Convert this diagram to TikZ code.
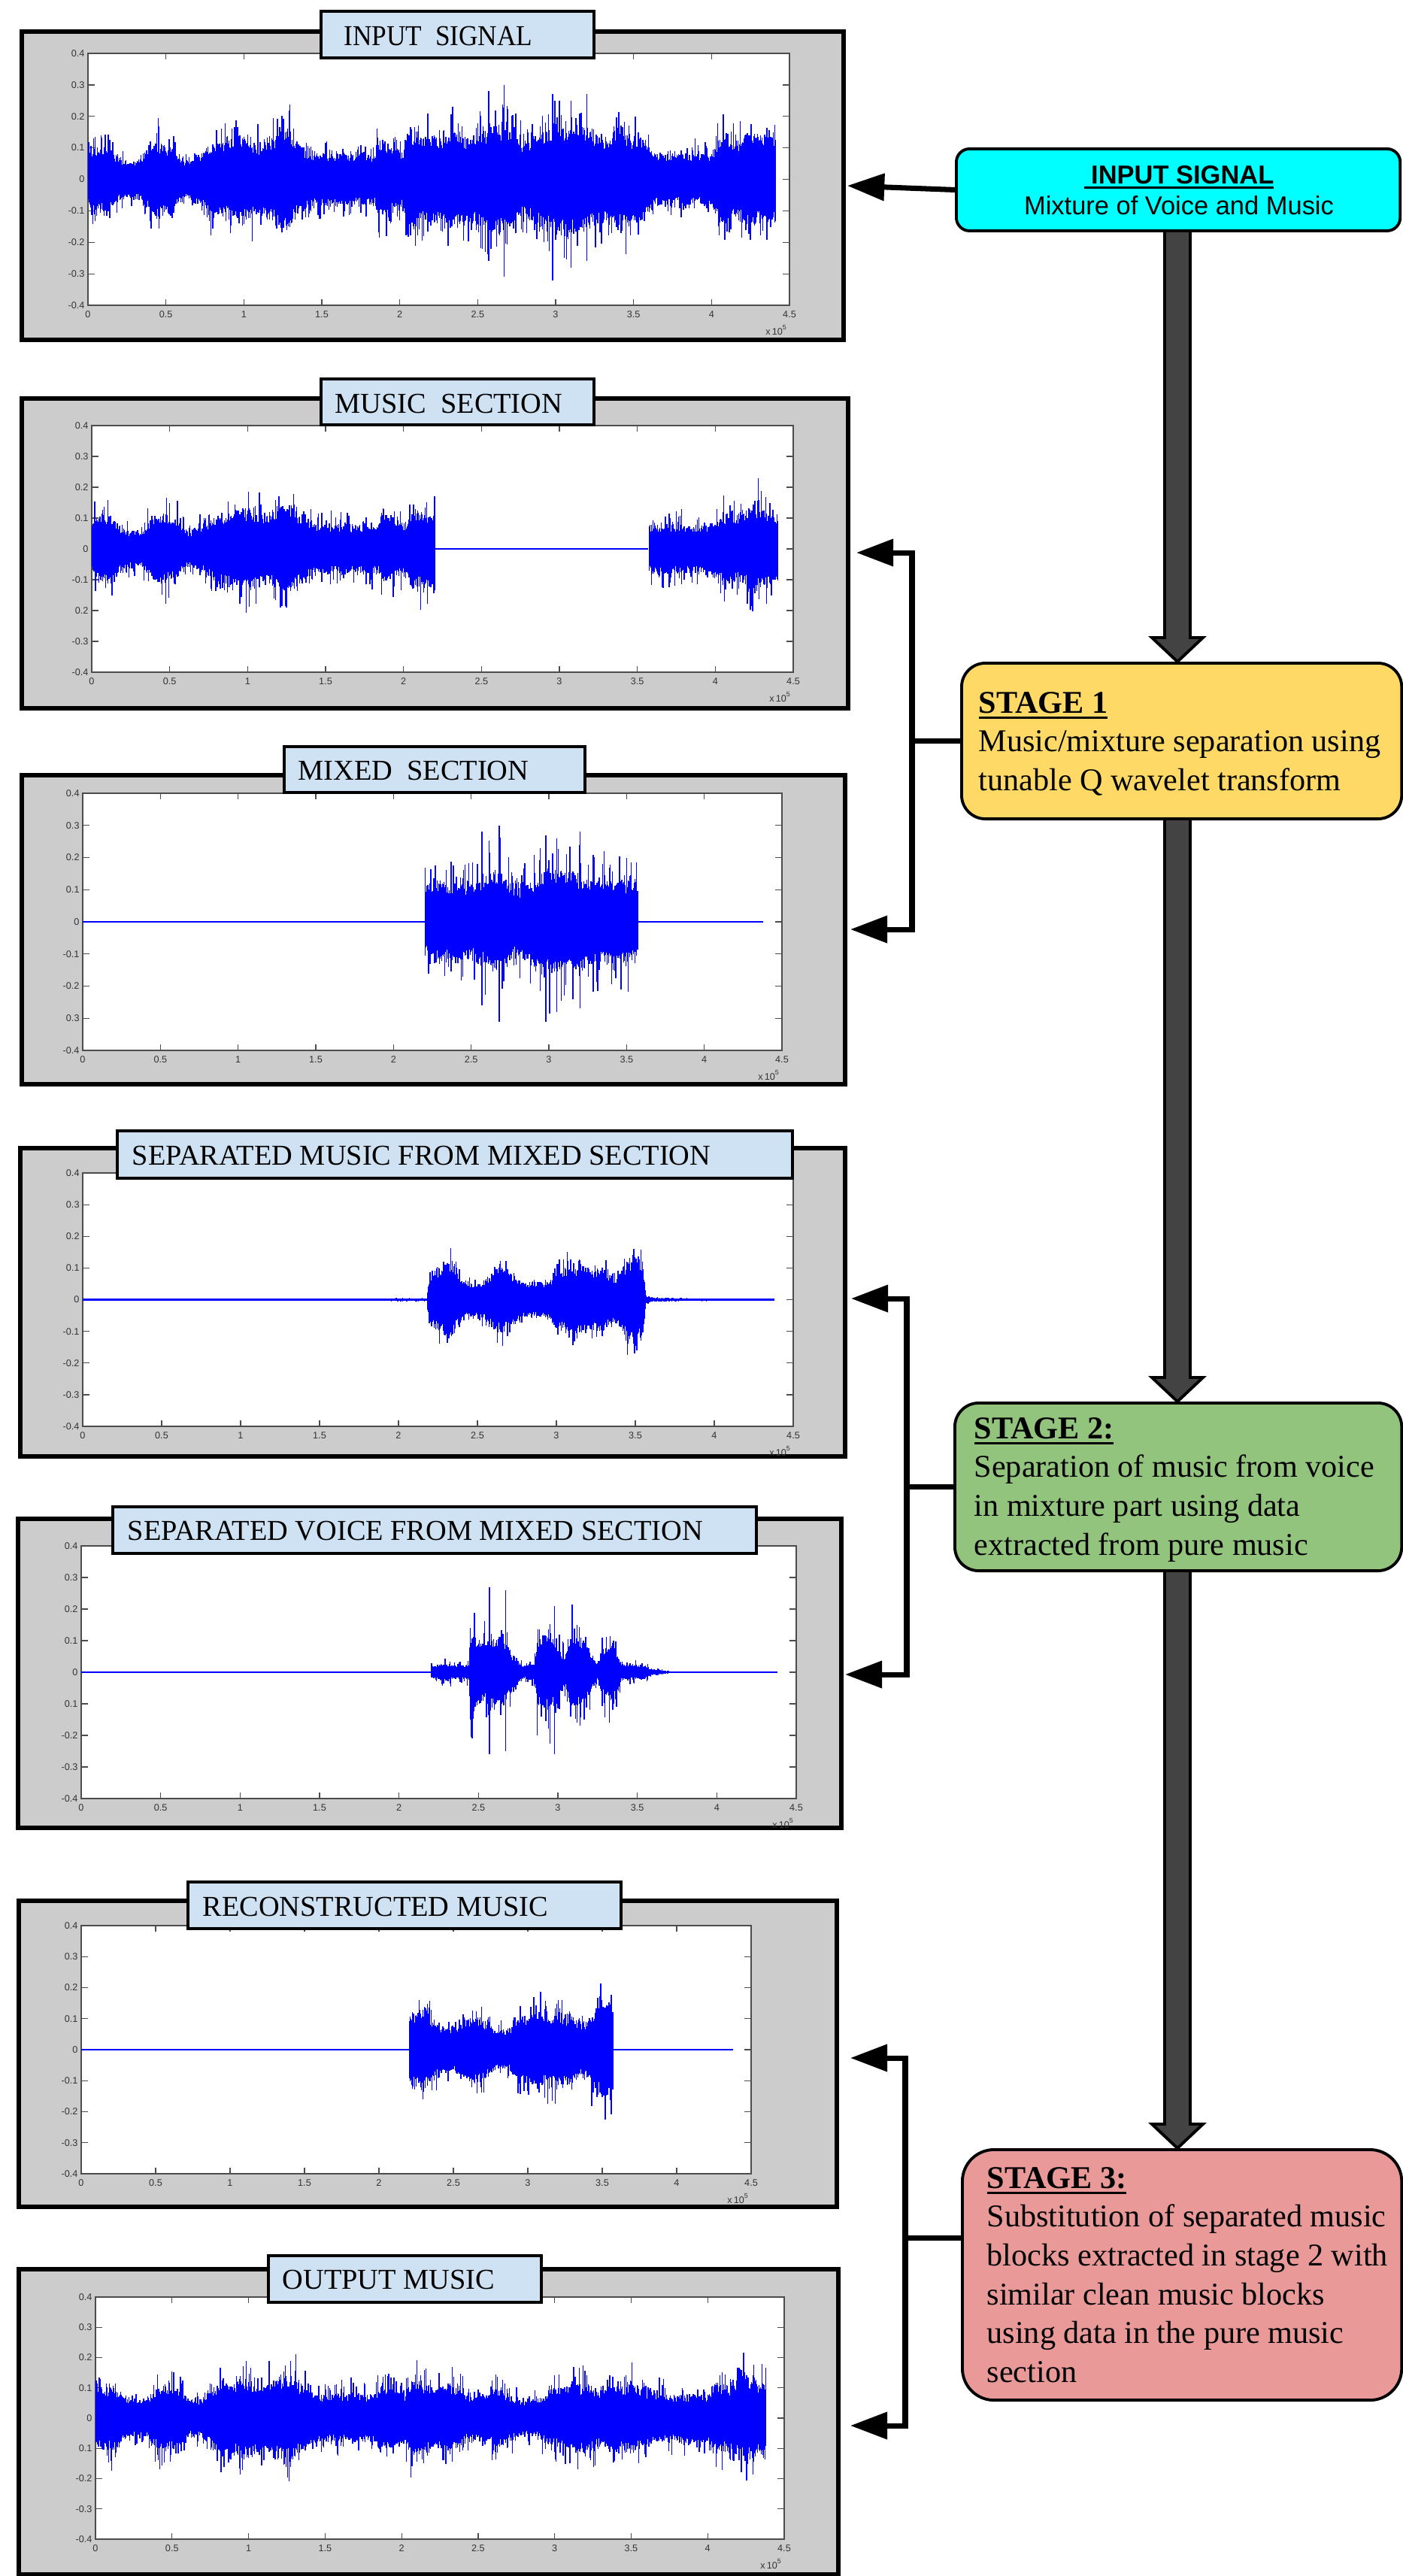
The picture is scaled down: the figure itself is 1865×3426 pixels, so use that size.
\documentclass[tikz,border=0pt]{standalone}
\usepackage{graphicx}
\usepackage{fontspec}
\setmainfont{Liberation Serif}
\setsansfont{Liberation Sans}
\usetikzlibrary{arrows.meta,calc}

\definecolor{panelgray}{RGB}{204,204,204}
\definecolor{labelblue}{RGB}{207,226,243}
\definecolor{stageA}{RGB}{255,217,102}
\definecolor{stageB}{RGB}{147,196,125}
\definecolor{stageC}{RGB}{234,153,153}
\definecolor{arrowgray}{RGB}{67,67,67}
\definecolor{inputcyan}{RGB}{0,255,255}
\definecolor{wblue}{RGB}{0,0,255}

\newsavebox\ulbox
\newcommand\myul[3]{\sbox\ulbox{#1}\rlap{\rule[#2]{\wd\ulbox}{#3}}\usebox\ulbox}

% ---------- waveform helpers ----------
\newcommand\wspk{1}
\newcommand\wmul{1}
\newcommand\wv[4]{%
  \pgfmathtruncatemacro\wn{max(1,round(((#2)-(#1))/0.005))}%
  \draw[wave] foreach \k in {1,...,\wn}{
    ({(#1)+((#2)-(#1))*\k/\wn},{-\wmul*((#3)+((#4)-(#3))*\k/\wn)*(0.75+0.35*rnd+\wspk*rnd^6)})
    -- ({(#1)+((#2)-(#1))*\k/\wn},{\wmul*((#3)+((#4)-(#3))*\k/\wn)*(0.75+0.35*rnd+\wspk*rnd^6)})
  };}
\newcommand\wvpair[4]{\wv{#1}{#3}{#2}{#4}}
\newcommand\wenv[1]{%
  \gdef\wprev{}%
  \foreach \wT/\wE in {#1}{%
    \ifx\wprev\empty\else\expandafter\wvpair\wprev{\wT}{\wE}\fi
    \xdef\wprev{{\wT}{\wE}}%
  }}

% ---------- axes helper ----------
\newcommand\axes[6]{%
  \fill[white] (#1,#2) rectangle (#3,#4);
  \draw[axisline] (#1,#2) rectangle (#3,#4);
  \foreach \i in {0,...,9}{%
    \pgfmathsetmacro\xx{#1+\i*(#3-#1)/9}%
    \draw[axisline] (\xx,#4) -- (\xx,#4-8);
    \draw[axisline] (\xx,#2) -- (\xx,#2+8);
  }
  \foreach \j in {0,...,8}{%
    \pgfmathsetmacro\yy{#2+\j*(#4-#2)/8}%
    \draw[axisline] (#1,\yy) -- (#1+9,\yy);
    \draw[axisline] (#3,\yy) -- (#3-9,\yy);
  }
  \foreach \l [count=\j from 0] in {#6}{%
    \pgfmathsetmacro\yy{#2+\j*(#4-#2)/8}%
    \node[ticklab, anchor=east] (#5y\j) at (#1-2,\yy) {\l};
  }
  \foreach \l [count=\i from 0] in {0,0.5,1,1.5,2,2.5,3,3.5,4,4.5}{%
    \pgfmathsetmacro\xx{#1+\i*(#3-#1)/9}%
    \node[ticklab, anchor=north] (#5x\i) at (\xx,#4+5) {\l};
  }
  \node[ticklab, anchor=north east] (#5e) at (#3,#4+24) {x\,10\textsuperscript{5}};
}

\begin{document}
\begin{tikzpicture}[x=0.01cm, y=-0.01cm,
  panelframe/.style={fill=panelgray, draw=black, line width=1.7pt},
  axisline/.style={draw=black!70, line width=0.35pt},
  ticklab/.style={font=\sffamily\fontsize{3.6}{4}\selectfont, text=black!80, inner sep=0.5pt},
  labelbox/.style={fill=labelblue, draw=black, line width=1.1pt},
  labeltext/.style={font=\fontsize{10.9}{13}\selectfont, inner sep=0pt},
  wave/.style={draw=wblue, line width=0.4pt},
  flat/.style={draw=wblue, line width=0.5pt},
  stagebox/.style={draw=black, line width=1.1pt, rounded corners=9pt, inner sep=0pt, anchor=north west},
  stagetext/.style={inner sep=0pt, anchor=base west, font=\fontsize{12}{14.7}\selectfont},
  bigarr/.style={fill=arrowgray, draw=black, line width=1.1pt, line join=miter},
  conn/.style={draw=black, line width=2pt, -{Triangle[length=14pt,width=10pt]}},
]
\useasboundingbox (0,0) rectangle (1865,3426);
\pgfmathsetseed{7}

% ================= PANEL 1 : INPUT SIGNAL =================
\path[panelframe] (29,42) rectangle (1122,452);
\axes{117}{71}{1050}{406}{pa}{0.4,0.3,0.2,0.1,0,-0.1,-0.2,-0.3,-0.4}
\begin{scope}[shift={(117,238.5)}, xscale=207.33, yscale=-418.75]
  \renewcommand\wspk{0.7}\renewcommand\wmul{1.25}
  \wenv{0/0.06, 0.05/0.08, 0.12/0.08, 0.2/0.05, 0.3/0.04, 0.38/0.07, 0.45/0.09, 0.55/0.07,
        0.62/0.045, 0.7/0.05, 0.78/0.08, 0.9/0.09, 1.0/0.1, 1.1/0.08, 1.2/0.1, 1.28/0.12,
        1.35/0.08, 1.45/0.06, 1.6/0.06, 1.75/0.06, 1.84/0.06, 1.86/0.1, 1.95/0.08, 2.02/0.06,
        2.06/0.12, 2.15/0.1, 2.25/0.1, 2.35/0.11, 2.45/0.1, 2.55/0.12, 2.65/0.13, 2.72/0.11,
        2.8/0.08, 2.9/0.11, 3.0/0.13, 3.1/0.13, 3.2/0.12, 3.3/0.1, 3.45/0.11, 3.55/0.09,
        3.65/0.06, 3.8/0.06, 4.0/0.06, 4.05/0.1, 4.15/0.09, 4.25/0.11, 4.35/0.1, 4.41/0.1}
  \draw[wave] (2.57,-0.26) -- (2.57,0.28) (2.67,-0.31) -- (2.67,0.3)
              (2.98,-0.32) -- (2.98,0.27) (3.2,-0.26) -- (3.2,0.27) (3.1,-0.28) -- (3.1,0.25);
\end{scope}
\draw[labelbox] (427,15) rectangle (790,77);
\node[labeltext, anchor=base west] (la) at (457,60) {\scalebox{0.92}[1]{INPUT\hspace{0.5em}SIGNAL}};

% ================= PANEL 2 : MUSIC SECTION =================
\path[panelframe] (29,530) rectangle (1128,942);
\axes{122}{566}{1055}{894}{pb}{0.4,0.3,0.2,0.1,0,-0.1,0.2,-0.3,-0.4}
\begin{scope}[shift={(122,730)}, xscale=207.33, yscale=-410]
  \renewcommand\wspk{0.8}\renewcommand\wmul{1.2}
  \wenv{0/0.06, 0.05/0.08, 0.12/0.08, 0.2/0.05, 0.3/0.04, 0.38/0.07, 0.45/0.09, 0.55/0.07,
        0.62/0.045, 0.7/0.05, 0.78/0.08, 0.9/0.09, 1.0/0.1, 1.1/0.08, 1.2/0.1, 1.28/0.11,
        1.35/0.08, 1.45/0.06, 1.6/0.06, 1.75/0.06, 1.84/0.06, 1.86/0.09, 1.95/0.07, 2.02/0.06,
        2.06/0.1, 2.15/0.09, 2.2/0.09}
  \draw[flat] (2.2,0) -- (3.57,0);
  \wenv{3.57/0.06, 3.7/0.06, 3.9/0.06, 4.0/0.06, 4.05/0.09, 4.15/0.08, 4.25/0.11, 4.35/0.09, 4.4/0.09}
\end{scope}
\draw[labelbox] (427,504) rectangle (790,565);
\node[labeltext, anchor=base west] (lb) at (445,549) {MUSIC\hspace{0.5em}SECTION};

% ================= PANEL 3 : MIXED SECTION =================
\path[panelframe] (29,1031) rectangle (1124,1442);
\axes{110}{1055}{1040}{1397}{pc}{0.4,0.3,0.2,0.1,0,-0.1,-0.2,0.3,-0.4}
\begin{scope}[shift={(110,1226)}, xscale=206.67, yscale=-427.5]
  \renewcommand\wspk{0.9}\renewcommand\wmul{1.35}
  \draw[flat] (0,0) -- (2.2,0) (3.57,0) -- (4.38,0);
  \wenv{2.2/0.07, 2.3/0.09, 2.4/0.08, 2.45/0.075, 2.55/0.085, 2.65/0.11, 2.72/0.09, 2.8/0.07,
        2.9/0.09, 3.0/0.11, 3.1/0.11, 3.2/0.1, 3.3/0.09, 3.45/0.09, 3.57/0.08}
  \draw[wave] (2.57,-0.26) -- (2.57,0.28) (2.68,-0.31) -- (2.68,0.3)
              (2.98,-0.31) -- (2.98,0.27) (3.2,-0.27) -- (3.2,0.28) (3.05,-0.28) -- (3.05,0.26);
\end{scope}
\draw[labelbox] (378,993) rectangle (778,1054);
\node[labeltext, anchor=base west] (lc) at (396,1037) {MIXED\hspace{0.5em}SECTION};

% ================= PANEL 4 : SEPARATED MUSIC =================
\path[panelframe] (27,1527) rectangle (1124,1937);
\axes{110}{1560}{1055}{1897}{pd}{0.4,0.3,0.2,0.1,0,-0.1,-0.2,-0.3,-0.4}
\begin{scope}[shift={(110,1728.5)}, xscale=210, yscale=-421.25]
  \renewcommand\wspk{0.5}\renewcommand\wmul{1.45}
  \draw[flat, line width=0.7pt] (0,0) -- (4.38,0);
  \wenv{1.95/0.003, 2.18/0.003, 2.2/0.05, 2.28/0.07, 2.33/0.08, 2.4/0.04, 2.5/0.03, 2.58/0.05,
        2.65/0.07, 2.72/0.05, 2.8/0.035, 2.95/0.035, 3.0/0.06, 3.1/0.07, 3.2/0.065, 3.3/0.06,
        3.38/0.045, 3.45/0.08, 3.5/0.09, 3.55/0.07, 3.57/0.008, 3.6/0.004, 4.0/0.002}
\end{scope}
\draw[labelbox] (156,1504) rectangle (1054,1567);
\node[labeltext, anchor=base west] (ld) at (175,1549) {SEPARATED MUSIC FROM MIXED SECTION};

% ================= PANEL 5 : SEPARATED VOICE =================
\path[panelframe] (24,2020) rectangle (1119,2431);
\axes{108}{2056}{1059}{2392}{pe}{0.4,0.3,0.2,0.1,0,0.1,-0.2,-0.3,-0.4}
\begin{scope}[shift={(108,2224)}, xscale=211.33, yscale=-420]
  \renewcommand\wspk{1.2}\renewcommand\wmul{1.6}
  \draw[flat, line width=0.7pt] (0,0) -- (4.38,0);
  \wenv{2.2/0.008, 2.25/0.015, 2.4/0.012, 2.44/0.015, 2.45/0.07, 2.5/0.06, 2.55/0.05, 2.6/0.06,
        2.66/0.06, 2.72/0.03, 2.78/0.012, 2.85/0.015, 2.87/0.06, 2.95/0.07, 3.0/0.04, 3.05/0.03,
        3.08/0.06, 3.15/0.06, 3.2/0.04, 3.25/0.015, 3.3/0.05, 3.35/0.05, 3.4/0.015, 3.55/0.012,
        3.6/0.005, 3.7/0.002}
  \draw[wave] (2.57,-0.26) -- (2.57,0.27) (2.67,-0.25) -- (2.67,0.26) (2.98,-0.26) -- (2.98,0.21)
              (2.45,-0.15) -- (2.45,0.14) (3.12,-0.16) -- (3.12,0.15) (3.35,-0.1) -- (3.35,0.1);
\end{scope}
\draw[labelbox] (150,2004) rectangle (1006,2066);
\node[labeltext, anchor=base west] (le) at (169,2048) {SEPARATED VOICE FROM MIXED SECTION};

% ================= PANEL 6 : RECONSTRUCTED MUSIC =================
\path[panelframe] (25,2528) rectangle (1113,2935);
\axes{108}{2561}{999}{2891}{pf}{0.4,0.3,0.2,0.1,0,-0.1,-0.2,-0.3,-0.4}
\begin{scope}[shift={(108,2726)}, xscale=198, yscale=-412.5]
  \renewcommand\wspk{0.7}\renewcommand\wmul{1.4}
  \draw[flat] (0,0) -- (4.38,0);
  \wenv{2.2/0.07, 2.3/0.09, 2.35/0.07, 2.42/0.05, 2.5/0.045, 2.58/0.06, 2.65/0.075, 2.72/0.06,
        2.8/0.04, 2.88/0.045, 2.95/0.07, 3.1/0.075, 3.2/0.08, 3.3/0.07, 3.38/0.055, 3.45/0.08,
        3.5/0.1, 3.57/0.09}
\end{scope}
\draw[labelbox] (250,2503) rectangle (826,2565);
\node[labeltext, anchor=base west] (lf) at (269,2548) {RECONSTRUCTED MUSIC};

% ================= PANEL 7 : OUTPUT MUSIC =================
\path[panelframe] (25,3018) rectangle (1115,3424);
\axes{127}{3055}{1043}{3377}{pg}{0.4,0.3,0.2,0.1,0,0.1,-0.2,-0.3,-0.4}
\begin{scope}[shift={(127,3216)}, xscale=203.56, yscale=-402.5]
  \renewcommand\wspk{0.8}\renewcommand\wmul{1.2}
  \wenv{0/0.06, 0.05/0.08, 0.12/0.08, 0.2/0.05, 0.3/0.04, 0.38/0.07, 0.45/0.09, 0.55/0.07,
        0.62/0.045, 0.7/0.05, 0.78/0.08, 0.9/0.09, 1.0/0.1, 1.1/0.08, 1.2/0.1, 1.28/0.11,
        1.35/0.08, 1.45/0.06, 1.6/0.06, 1.75/0.06, 1.84/0.06, 1.86/0.09, 1.95/0.07, 2.02/0.06,
        2.06/0.1, 2.15/0.09, 2.22/0.07, 2.3/0.09, 2.35/0.08, 2.45/0.05, 2.55/0.06, 2.62/0.08,
        2.7/0.06, 2.8/0.04, 2.9/0.05, 2.95/0.07, 3.1/0.08, 3.2/0.09, 3.3/0.07, 3.4/0.08,
        3.5/0.09, 3.6/0.07, 3.7/0.06, 3.9/0.06, 4.0/0.06, 4.05/0.09, 4.15/0.08, 4.25/0.11,
        4.35/0.09, 4.38/0.09}
\end{scope}
\draw[labelbox] (357,3000) rectangle (720,3062);
\node[labeltext, anchor=base west] (lg) at (375,3044) {OUTPUT MUSIC};

% ================= RIGHT COLUMN =================
\coordinate (ax) at (1566,0);
\node[draw=black, line width=1.1pt, fill=inputcyan, rounded corners=5pt, inner sep=0pt,
      anchor=north west, minimum width=5.9cm, minimum height=1.09cm] (inp) at (1270,196) {};
\node[stagebox, fill=stageA, minimum width=5.85cm, minimum height=2.07cm] (s1) at (1277,880) {};
\node[stagebox, fill=stageB, minimum width=5.94cm, minimum height=2.23cm] (s2) at (1268,1864) {};
\node[stagebox, fill=stageC, rounded corners=12pt, minimum width=5.84cm, minimum height=3.33cm] (s3) at (1278,2857) {};

\newcommand\bigarrow[2]{%
  \draw[bigarr] ($(#1.south -| ax)+(-17,0)$) -- ($(#2.north -| ax)+(-17,-32)$)
     -- ($(#2.north -| ax)+(-34,-32)$) -- (#2.north -| ax) -- ($(#2.north -| ax)+(34,-32)$)
     -- ($(#2.north -| ax)+(17,-32)$) -- ($(#1.south -| ax)+(17,0)$);}
\bigarrow{inp}{s1}
\bigarrow{s1}{s2}
\bigarrow{s2}{s3}

% texts
\node[inner sep=0pt, anchor=base, font=\sffamily\fontsize{9.8}{11.7}\selectfont] (inpt) at (1568,244)
  {\parbox[t]{5.8cm}{\centering\textbf{\myul{\ INPUT SIGNAL}{-2pt}{0.85pt}}\\Mixture of Voice and Music}};
\node[stagetext] (s1t) at (1301,948)
  {\parbox[t]{5.6cm}{\raggedright\textbf{\myul{STAGE 1}{-2.3pt}{1pt}}\\Music/mixture separation using\\tunable Q wavelet transform}};
\node[stagetext] (s2t) at (1295,1913)
  {\parbox[t]{5.6cm}{\raggedright\textbf{\myul{STAGE 2:}{-2.3pt}{1pt}}\\Separation of music from voice\\in mixture part using data\\extracted from pure music}};
\node[stagetext] (s3t) at (1312,2910)
  {\parbox[t]{5.6cm}{\raggedright\textbf{\myul{STAGE 3:}{-2.3pt}{1pt}}\\Substitution of separated music\\blocks extracted in stage 2 with\\similar clean music blocks\\using data in the pure music\\section}};

% connectors
\coordinate (t1) at (1127,247);
\coordinate (b1) at (1213,0);
\coordinate (t2) at (1139,735);
\coordinate (t3) at (1131,1236);
\coordinate (b2) at (1206,0);
\coordinate (t4) at (1132,1727);
\coordinate (t5) at (1124,2227);
\coordinate (b3) at (1204,0);
\coordinate (t6) at (1131,2737);
\coordinate (t7) at (1131,3226);
\coordinate (c3) at ($(s3.north west)!0.354!(s3.south west)$);

\draw[conn] (inp.west) -- (t1);
\draw[conn] (s1.west) -- (s1.west -| b1) |- (t2);
\draw[conn] (s1.west -| b1) |- (t3);
\draw[conn] (s2.west) -- (s2.west -| b2) |- (t4);
\draw[conn] (s2.west -| b2) |- (t5);
\draw[conn] (c3) -- (c3 -| b3) |- (t6);
\draw[conn] (c3 -| b3) |- (t7);
\end{tikzpicture}
\end{document}
